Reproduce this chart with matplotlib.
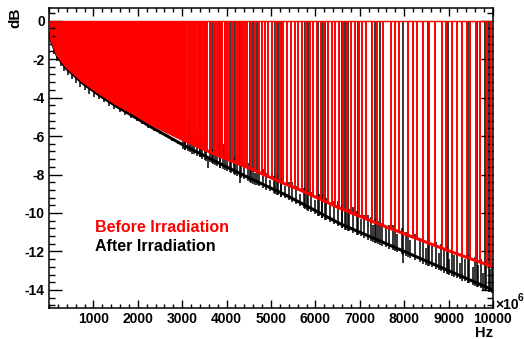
import matplotlib
matplotlib.use("Agg")
import matplotlib.pyplot as plt
import numpy as np
from matplotlib.ticker import MultipleLocator

plt.rcParams["font.family"] = ["Liberation Sans", "DejaVu Sans"]
plt.rcParams["font.weight"] = "bold"
plt.rcParams["axes.unicode_minus"] = False

# envelope of the two sweeps (MHz, dB)
freq = np.array([10, 60, 200, 400, 775, 1150, 1525, 1900, 2275, 3025, 3775,
                 4525, 5275, 5650, 6550, 7400, 8250, 9100, 10000])
before_db = np.array([-0.6, -1.0, -1.8, -2.4, -3.18, -3.78, -4.34, -4.82, -5.34,
                      -6.2, -6.99, -7.68, -8.45, -8.8, -9.75, -10.55, -11.3,
                      -12.05, -12.8])
after_db = np.array([-0.65, -1.1, -1.9, -2.5, -3.28, -3.9, -4.46, -4.97, -5.5,
                     -6.47, -7.35, -8.2, -9.0, -9.45, -10.55, -11.4, -12.25,
                     -13.1, -14.0])

# below this frequency the red spikes are so dense they read as solid
dense_limit = 3025

# frequencies where the trace jumps up to 0 dB
before_spikes = [3020, 3060, 3100, 3150, 3190, 3240, 3270, 3310, 3360, 3400,
                 3440, 3480, 3530, 3570, 3620, 3660, 3720, 3760, 3810, 3870,
                 3900, 3960, 4010, 4060, 4120, 4150, 4210, 4260, 4320, 4370,
                 4410, 4470, 4560, 4630, 4720, 4790, 4870, 4940, 5030, 5120,
                 5200, 5280, 5360, 5450, 5530, 5610, 5700, 5790, 5870, 5950,
                 6040, 6120, 6190, 6290, 6370, 6450, 6540, 6620, 6710, 6800,
                 6890, 6980, 7060, 7150, 7268, 7380, 7530, 7695, 7793, 7890,
                 8093, 8191, 8296, 8431, 8566, 8701, 8844, 8941, 9070, 9196,
                 9295, 9407, 9482, 9617, 9707, 9872, 9960]
after_spikes = [3011, 3063, 3176, 3266, 3401, 3514, 3664, 3739, 3851, 3964,
                4077, 4189, 4302, 4527, 4602, 4677, 5090, 5165, 5225, 5766,
                5840, 6065, 6142, 6216, 6592, 6667, 6741, 6966, 7343, 7455,
                7980, 8546, 8991, 9445, 9632, 9820, 9900]

# short upward excursions of the irradiated sweep
after_short_f = [3060, 3130, 3230, 3330, 3390, 3450, 3540, 3620, 3700, 3790,
                 3860, 3930, 4020, 4100, 4170, 4240, 4320, 4400, 4480, 4560,
                 4640, 4720, 4810, 4890, 4970, 5060, 5140, 5230, 5310, 5400,
                 5480, 5570, 5650, 5740, 5820, 5910, 5990, 6080, 6160, 6250,
                 6330, 6420, 6500, 6590, 6680, 6760, 6850, 6930, 7020, 7100,
                 7190, 7250, 7300, 7360, 7420, 7500, 7580, 7660, 7740, 7790,
                 7840, 7940, 8040, 8090, 8140, 8250, 8360, 8430, 8500, 8570,
                 8630, 8710, 8780, 8840, 8900, 8960, 9020, 9080, 9130, 9190,
                 9250, 9310, 9360, 9450, 9540, 9600, 9670, 9720, 9780, 9850,
                 9930, 9970]
after_short_top = [-5.9, -5.2, -6.0, -5.8, -6.4, -6.0, -6.5, -6.3, -6.7, -6.6,
                   -6.9, -6.4, -7.0, -7.2, -7.1, -7.0, -7.3, -7.6, -7.4, -7.5,
                   -7.9, -7.7, -7.7, -7.9, -8.3, -8.1, -8.0, -8.2, -8.6, -8.4,
                   -8.4, -8.6, -9.0, -8.7, -8.8, -8.9, -9.3, -9.0, -9.0, -9.2,
                   -9.6, -9.4, -9.4, -9.6, -9.9, -9.8, -9.7, -9.9, -10.3, -10.1,
                   -10.1, -10.2, -10.6, -10.3, -10.4, -10.5, -10.8, -10.6,
                   -10.6, -10.7, -11.1, -10.8, -11.0, -11.0, -11.4, -11.1,
                   -11.3, -11.3, -11.8, -11.4, -11.6, -11.5, -12.1, -11.6,
                   -11.9, -11.7, -12.4, -11.9, -12.2, -12.0, -12.6, -12.1,
                   -12.4, -12.2, -12.8, -12.3, -12.7, -12.4, -13.1, -12.5,
                   -12.9, -12.6]

# downward dips of the irradiated sweep
after_dip_f = [110, 180, 260, 330, 420, 520, 610, 700, 800, 900, 1010, 1120,
               1230, 1350, 1460, 1600, 1720, 1850, 1980, 2100, 2230, 2360,
               2500, 2640, 2780, 2900, 3580, 4300, 7975]
after_dip_db = [-1.75, -2.1, -2.35, -2.6, -2.85, -3.05, -3.25, -3.45, -3.6,
                -3.8, -3.95, -4.1, -4.25, -4.45, -4.6, -4.75, -4.9, -5.05,
                -5.2, -5.4, -5.6, -5.75, -5.9, -6.05, -6.25, -6.4, -7.65,
                -8.45, -12.6]

red = "#ff0000"

fig = plt.figure(figsize=(5.24, 3.39), dpi=100)
ax = fig.add_axes([0.0935, 0.0914, 0.8473, 0.8864])

# after irradiation (black)
base = np.interp(after_spikes, freq, after_db) - 0.2
ax.vlines(after_spikes, base, 0, color="black", lw=1.1)
base = np.interp(after_short_f, freq, after_db) - 0.2
ax.vlines(after_short_f, base, after_short_top, color="black", lw=1.1)
top = np.interp(after_dip_f, freq, after_db)
ax.vlines(after_dip_f, after_dip_db, top, color="black", lw=1.1)
ax.plot(freq, after_db, color="black", lw=2.2, solid_capstyle="butt")

# before irradiation (red)
dense = freq <= dense_limit
ax.fill_between(freq[dense], before_db[dense], 0, color=red, lw=0)
base = np.interp(before_spikes, freq, before_db)
ax.vlines(before_spikes, base, 0, color=red, lw=1.4)
ax.hlines(0, freq[0], freq[-1], color=red, lw=1.0)
ax.plot(freq, before_db, color=red, lw=2.2, solid_capstyle="butt")

ax.set_xlim(0, 10000)
ax.set_ylim(-14.94, 0.68)

ax.xaxis.set_minor_locator(MultipleLocator(200))
ax.yaxis.set_major_locator(MultipleLocator(2))
ax.yaxis.set_minor_locator(MultipleLocator(0.4))
ax.set_xticks(np.arange(1000, 10001, 1000))
ax.set_xticklabels([str(v) for v in range(1000, 10001, 1000)])

ax.tick_params(axis="both", which="both", direction="in", top=True,
               right=True, width=1.0, labelsize=10)
ax.tick_params(axis="x", which="major", length=6, pad=3)
ax.tick_params(axis="x", which="minor", length=3)
ax.tick_params(axis="y", which="major", length=9, pad=3)
ax.tick_params(axis="y", which="minor", length=4.5)
for lab in ax.get_xticklabels() + ax.get_yticklabels():
    lab.set_fontweight("bold")
for s in ax.spines.values():
    s.set_linewidth(1.1)

ax.text(1040, -10.97, "Before Irradiation", color=red, fontsize=11.5,
        fontweight="bold", va="baseline")
ax.text(1040, -11.96, "After Irradiation", color="black", fontsize=11.5,
        fontweight="bold", va="baseline")

fig.text(15 / 524, 1 - 7.5 / 339, "dB", rotation=90, ha="center", va="top",
         fontsize=11, fontweight="bold")
fig.text(493 / 524, 1 - 337 / 339, "Hz", ha="right", va="baseline",
         fontsize=10.5, fontweight="bold")
fig.text(495 / 524, 1 - 309 / 339, "\u00d710", ha="left", va="baseline",
         fontsize=10, fontweight="bold")
fig.text(518 / 524, 1 - 301 / 339, "6", ha="left", va="baseline",
         fontsize=7.5, fontweight="bold")

fig.savefig("out.png", dpi=100)
